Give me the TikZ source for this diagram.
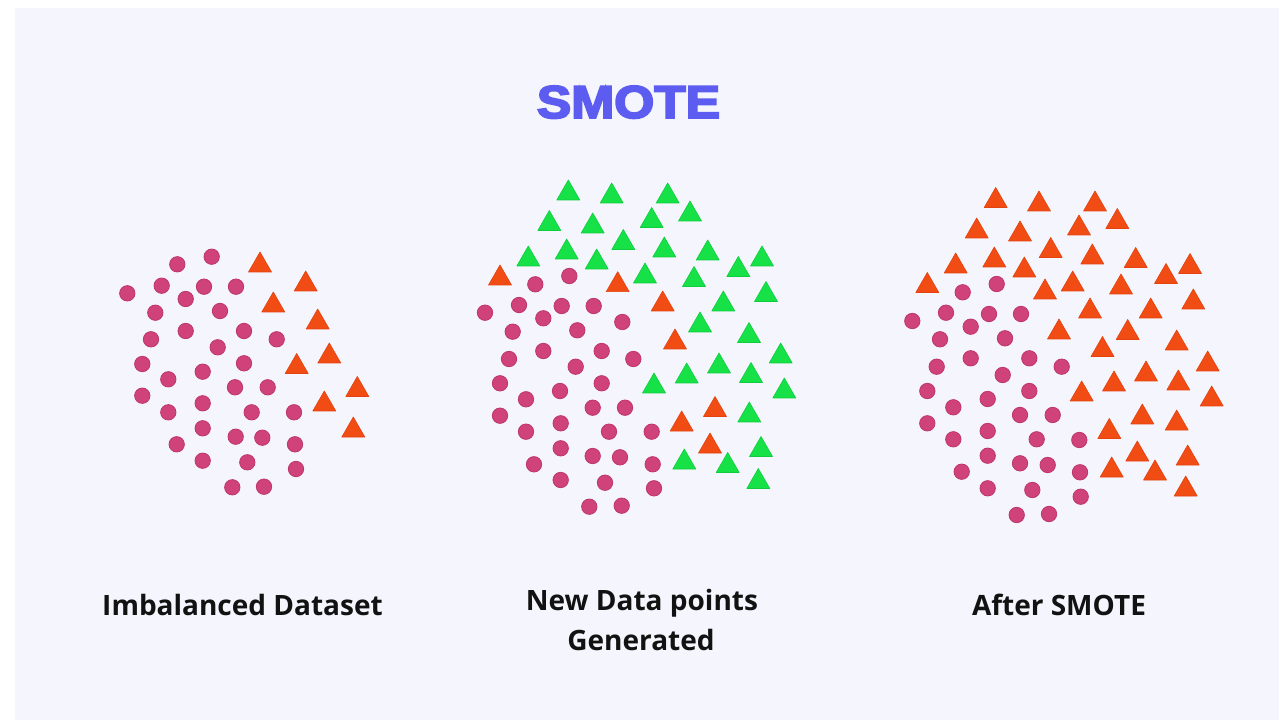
\documentclass[tikz,border=0pt]{standalone}
\usepackage{fontspec}
\usepackage{graphicx}
\newfontfamily\labfont{Open Sans}
\newfontfamily\titlefont{Liberation Sans}[BoldFeatures={FakeBold=4}]
\definecolor{bgc}{RGB}{245,245,253}
\definecolor{dotc}{RGB}{207,66,122}
\definecolor{dotedge}{RGB}{190,55,108}
\definecolor{orc}{RGB}{241,76,20}
\definecolor{oredge}{RGB}{228,66,14}
\definecolor{grc}{RGB}{22,226,72}
\definecolor{gredge}{RGB}{14,205,60}
\definecolor{titlec}{RGB}{92,92,240}
\definecolor{labc}{RGB}{18,18,18}
\tikzset{
  dotmark/.style={fill=dotc,draw=dotedge,line width=0.8pt},
  ortri/.style={fill=orc,draw=oredge,line width=0.6pt,line join=round},
  grtri/.style={fill=grc,draw=gredge,line width=0.6pt,line join=round},
  labeltext/.style={font=\labfont\bfseries\fontsize{28}{33}\selectfont,text=labc,inner sep=0pt,anchor=base},
  titletext/.style={font=\titlefont\bfseries\fontsize{46}{50}\selectfont,text=titlec,inner sep=0pt,anchor=base}
}
\begin{document}
\begin{tikzpicture}[x=1pt,y=-1pt]
\useasboundingbox (0,0) rectangle (1286,727);
\fill[white] (0,0) rectangle (1286,727);
\fill[bgc] (15,8) rectangle (1279,720);
% title
\node[titletext] (title) at (628.5,118) {\scalebox{1.12}[1]{SMOTE}};
% labels
\node[labeltext] (lab1) at (242.5,615) {Imbalanced Dataset};
\node[labeltext] (lab2a) at (642,610) {New Data points};
\node[labeltext] (lab2b) at (641,650) {Generated};
\node[labeltext] (lab3) at (1059,615) {After SMOTE};
% cluster 1
\foreach \px/\py in {211.7/256.7,177.3/264.3,127.3/293.3,161.7/285.7,204/286.7,236/286.7,185.7/299,155.3/312.7,220/311,185.7/331,244/331,151/339.3,276.7/339.3,217.7/347.3,142.3/364,244/363.3,202.7/371.7,168.3/379.3,235/387.3,267.7/387.3,142.3/395.7,202.7/403.3,168.3/412.3,251.7/412.3,294/412.3,202.7/428.3,235.7/436.7,262.3/437.7,176.7/444.3,295/444.3,202.7/460.7,247.3/462.3,296/469,232.3/487.3,264/486.7}
  \path[dotmark] (\px,\py) circle[radius=7.7pt];
\foreach \px/\py in {260/262,305.7/281,273.3/302,317.7/319,329.3/353,296.7/363.5,357.3/386.5,324.3/401,353.3/427}
  \path[ortri] (\px,\py) ++(0,-10) -- ++(11.5,20) -- ++(-23,0) -- cycle;
% cluster 2
\foreach \px/\py in {569.3/276,535.3/284.3,485/312.7,519/305,561.7/306,593.7/306,543.3/318.3,512.7/331.7,577.3/330.3,622.3/322,543.3/351,601.7/351,509/359,575.7/366.7,633.3/359,500/383.3,601.7/383.3,560/391,526/399.3,592.7/407.7,625/407.7,500/415.7,560.7/423.3,526/431.7,609/431.7,560.7/448.3,592.7/456,620/457.3,534/464.3,560.7/480,605/482.7,589.3/506.7,621.7/505.7,651.7/431.7,652.7/464.3,654/488.3}
  \path[dotmark] (\px,\py) circle[radius=7.7pt];
\foreach \px/\py in {500/275,617.7/281.7,662.7/301,675/339,715/406.5,681.7/421,710/443}
  \path[ortri] (\px,\py) ++(0,-10) -- ++(11.5,20) -- ++(-23,0) -- cycle;
\foreach \px/\py in {568.3/190,611.7/193,667.7/193,549.3/220.5,592.7/223,651.7/217.5,690/211,623.3/239.5,566.7/249,528.3/256,596.7/259,664.3/247,707.7/250,738.3/266.5,762/256,645/273,694/276.5,766/291.5,723.3/301,700/322,749/332.5,780.7/353,719/363,686.7/373,751/372.5,654/383,784.3/388,749.3/412,761/446.5,684.3/459,727.7/462.5,758.3/478.5}
  \path[grtri] (\px,\py) ++(0,-10) -- ++(11.5,20) -- ++(-23,0) -- cycle;
% cluster 3
\foreach \px/\py in {996.7/284,962.7/292.3,912.3/321,946/312.7,989/314,1021/314,970.7/326.7,940/339.3,1005/338.3,970.7/358.3,1029.3/358.3,936.7/366.7,1002.7/375,1061.7/366.7,927.3/391,1029.3/391,987.7/399,953.3/407.3,1020/415,1052.7/415,927.3/423.3,987.7/431,953.3/439.3,1036.7/439.3,987.7/455.7,1020/463.3,1047.7/465,961.7/471.7,987.7/488.3,1032.3/490,1016.7/515,1049/514,1079.3/440,1080/472.3,1080.7/496.7}
  \path[dotmark] (\px,\py) circle[radius=7.7pt];
\foreach \px/\py in {995.7/197.5,1039/201,1095/201,976.7/228,1020/231,1079/225,1117.3/218.5,1050.7/247.5,994.3/257,955.7/263,1024.3/267,1092.3/254,1135.7/257.5,1190/263.5,1166/273.5,927.3/282.5,1045/289,1072.7/281,1121/284,1193.3/299,1090/308,1150.7/308,1059/329,1127.7/329.5,1176.7/340,1102.5/346.5,1207.7/361,1081.7/391,1114/381,1146/371,1178.3/380,1211.7/396,1142.3/414,1176.7/420,1109.3/428.5,1137.3/451,1187.7/455,1111.7/467,1155/470,1185.7/486}
  \path[ortri] (\px,\py) ++(0,-10) -- ++(11.5,20) -- ++(-23,0) -- cycle;
\end{tikzpicture}
\end{document}
